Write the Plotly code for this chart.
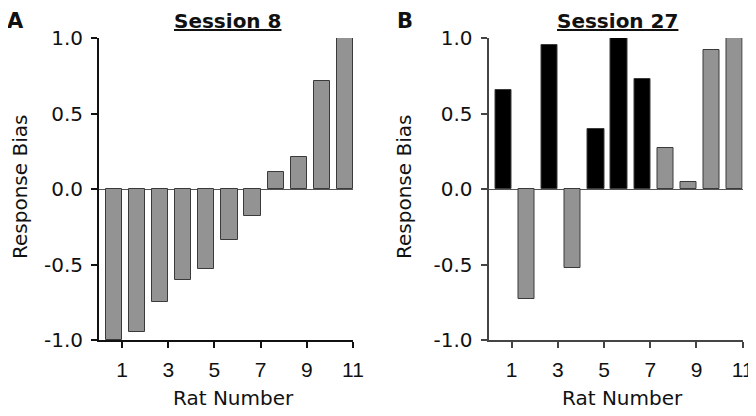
import plotly.graph_objects as go

rats = [1, 2, 3, 4, 5, 6, 7, 8, 9, 10, 11]

# Session 8 response bias per rat
session8_bias = [-1.0, -0.945, -0.75, -0.60, -0.53, -0.335, -0.18, 0.11, 0.21, 0.715, 1.0]

# Session 27 response bias per rat, black = highlighted rats
session27_bias = [0.654, -0.73, 0.951, -0.525, 0.40, 1.0, 0.73, 0.27, 0.044, 0.918, 1.0]
session27_highlight = [True, False, True, False, True, True, True, False, False, False, False]

tick_vals = [1, 3, 5, 7, 9, 11]
y_ticks = [-1.0, -0.5, 0.0, 0.5, 1.0]

GREY = "#939393"
# the page body has an 8px margin; the figure starts at (8, 8) in the window,
# so positions below are given in window pixels
OFF = 8
W, H = 756 - OFF, 416 - 2 * OFF
FONT = "DejaVu Sans, Arial, sans-serif"
TICK_FONT = "Liberation Sans, Arial, sans-serif"


def px(x):
    return (x - OFF) / W


def py(y):
    return 1 - (y - OFF) / H


fig = go.Figure()

fig.add_trace(
    go.Bar(
        x=rats, y=session8_bias, width=0.7, offset=-0.7,
        marker=dict(color=GREY, line=dict(color="#3a3a3a", width=1)),
        xaxis="x", yaxis="y", showlegend=False,
    )
)
fig.add_trace(
    go.Bar(
        x=rats, y=session27_bias, width=0.7, offset=-0.7,
        marker=dict(
            color=["#000000" if h else GREY for h in session27_highlight],
            line=dict(color="#3a3a3a", width=1),
        ),
        xaxis="x2", yaxis="y2", showlegend=False,
    )
)

y_dom = [py(340), py(38)]


def x_axis(domain, anchor, color):
    return dict(
        domain=domain, anchor=anchor, range=[0, 11], automargin=False,
        tickvals=tick_vals, ticktext=[str(t) for t in tick_vals],
        ticks="outside", ticklen=6, tickwidth=1.5, tickcolor=color,
        ticklabelstandoff=4, ticklabeloverflow="allow",
        showline=True, linecolor=color, linewidth=2,
        showgrid=False, zeroline=False,
        tickfont=dict(size=21, color="#111", family=TICK_FONT),
    )


def y_axis(anchor, color):
    return dict(
        domain=y_dom, anchor=anchor, range=[-1, 1], automargin=False,
        tickvals=y_ticks, ticktext=["%.1f" % v for v in y_ticks],
        ticks="outside", ticklen=6, tickwidth=1.5, tickcolor=color,
        ticklabelstandoff=4, ticklabeloverflow="allow",
        showline=True, linecolor=color, linewidth=2,
        showgrid=False, zeroline=True, zerolinecolor="#555", zerolinewidth=1,
        tickfont=dict(size=20, color="#111", family=FONT),
    )


fig.update_layout(
    width=W, height=H,
    margin=dict(l=0, r=0, t=0, b=0),
    paper_bgcolor="white", plot_bgcolor="white",
    font=dict(family=FONT, color="#111"),
    bargap=0,
    xaxis=x_axis([px(99), px(353)], "y", "#111"),
    yaxis=y_axis("x", "#111"),
    xaxis2=x_axis([px(488.5), px(742.7)], "y2", "#444"),
    yaxis2=y_axis("x2", "#444"),
)

# titles and panel letters hang from the top edge of the figure
top_texts = [
    dict(text="<b>A</b>", x=16, size=21),
    dict(text="<b>B</b>", x=405, size=21),
    dict(text="<b><u>Session 8</u></b>", x=228, size=20),
    dict(text="<b><u>Session 27</u></b>", x=617, size=20),
]
for a in top_texts:
    fig.add_annotation(
        text=a["text"], xref="paper", yref="paper",
        x=px(a["x"]), y=1, xanchor="center", yanchor="top",
        showarrow=False, borderpad=0,
        font=dict(size=a["size"], color="#111", family=FONT),
    )

axis_texts = [
    dict(text="Rat Number", x=233, y=398, angle=0),
    dict(text="Rat Number", x=622, y=398, angle=0),
    dict(text="Response Bias", x=20, y=187, angle=-90),
    dict(text="Response Bias", x=404, y=187, angle=-90),
]
for a in axis_texts:
    fig.add_annotation(
        text=a["text"], xref="paper", yref="paper",
        x=px(a["x"]), y=py(a["y"]), xanchor="center", yanchor="middle",
        showarrow=False, textangle=a["angle"], borderpad=0,
        font=dict(size=20, color="#111", family=FONT),
    )

fig.write_html("out.html")
